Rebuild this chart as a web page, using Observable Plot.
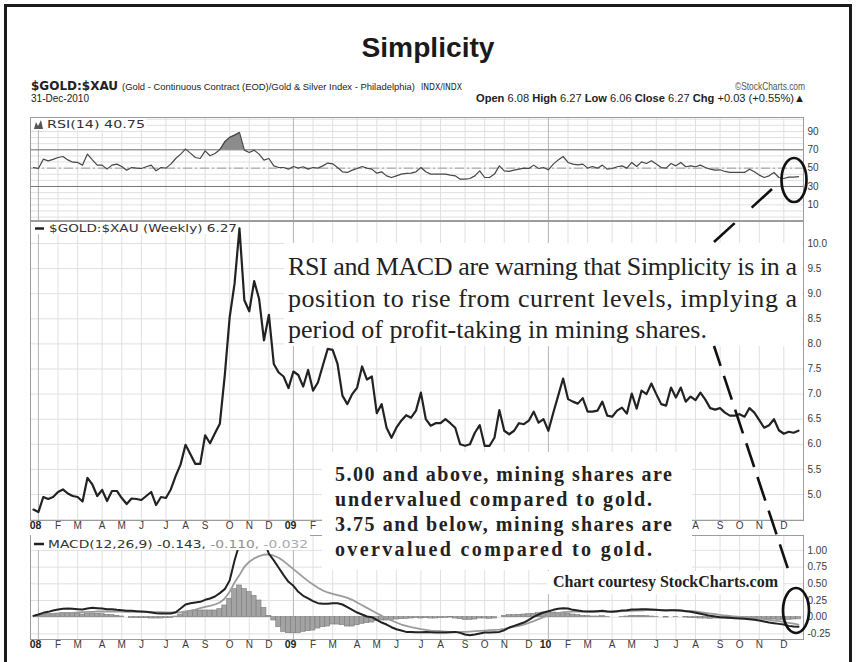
<!DOCTYPE html>
<html><head><meta charset="utf-8">
<script src="https://cdn.jsdelivr.net/npm/d3@7"></script>
<script src="https://cdn.jsdelivr.net/npm/@observablehq/plot@0.6"></script>
<style>
html,body{margin:0;padding:0;background:#fff;}
#root{position:relative;width:856px;height:662px;overflow:hidden;background:#fff;}
.panel{position:absolute;left:0;}
#overlay{position:absolute;left:0;top:0;}
</style></head>
<body><div id="root"></div>
<script>
// ---- data: weekly $GOLD:$XAU, Jan 2008 – Dec 2010 ----
const firstWeek = "2007-12-31", lastDay = "2011-01-01";
const price = [4.70,4.65,4.95,4.91,4.95,5.05,5.10,5.02,4.97,4.95,
4.86,5.33,5.20,4.97,5.09,4.87,5.07,5.07,4.93,4.81,
4.92,4.91,4.89,4.97,5.05,4.79,4.95,4.93,5.10,5.37,
5.60,5.99,5.80,5.61,5.61,6.18,6.02,6.22,6.41,7.37,
8.53,9.20,10.30,8.87,8.65,9.25,8.90,8.07,8.58,7.60,
7.43,7.35,7.12,7.45,7.38,7.15,7.48,7.07,7.23,7.57,
7.90,7.88,7.60,6.97,6.80,7.00,7.13,7.55,7.29,7.35,
6.62,6.80,6.33,6.13,6.33,6.47,6.58,6.53,6.67,7.03,
6.50,6.37,6.42,6.42,6.50,6.42,6.33,6.00,5.97,6.00,
6.23,6.38,5.97,5.97,6.13,6.68,6.27,6.20,6.27,6.42,
6.40,6.47,6.65,6.43,6.50,6.27,6.63,6.97,7.31,6.90,
6.85,6.81,6.92,6.65,6.65,6.67,6.85,6.57,6.55,6.67,
6.73,6.61,7.01,6.71,7.07,7.00,7.21,7.00,6.80,6.77,
7.13,6.93,7.13,6.85,6.95,6.88,7.03,6.89,6.72,6.69,
6.72,6.63,6.57,6.57,6.60,6.55,6.72,6.63,6.48,6.33,
6.38,6.50,6.28,6.21,6.25,6.23,6.27];
const rsi = [50.7,49.6,59.8,58.0,59.5,61.6,62.7,59.0,56.5,56.2,
53.3,65.3,59.0,53.3,53.3,48.9,53.3,54.4,51.8,47.8,
50.7,50.0,49.6,51.5,53.3,47.1,50.7,50.0,54.4,60.5,
65.3,70.7,66.4,61.6,60.5,68.9,63.5,66.0,70.0,78.7,
83.5,86.0,88.9,69.6,67.1,69.6,65.3,58.7,60.5,52.5,
50.7,50.7,48.9,51.8,50.0,51.5,48.9,50.7,50.0,52.5,
55.5,54.7,50.7,46.0,45.3,47.8,49.6,51.8,50.0,48.9,
44.5,46.0,41.6,39.8,41.6,43.5,44.2,44.5,46.0,50.7,
46.0,43.5,43.5,43.5,43.5,42.4,41.6,38.0,38.0,38.7,
41.6,47.1,39.8,39.8,43.5,52.5,47.1,46.4,47.8,48.9,
50.0,49.6,53.3,49.6,50.7,48.2,54.4,59.0,62.7,56.2,
54.4,53.6,54.4,50.0,51.8,50.0,53.3,48.9,49.6,51.5,
52.5,50.0,56.2,51.8,56.9,55.1,58.0,54.4,50.7,50.0,
55.1,52.5,56.2,51.5,52.5,51.5,53.3,50.7,48.9,47.8,
48.2,46.4,45.3,45.3,45.3,45.3,48.9,46.0,42.4,39.8,
41.6,45.3,39.8,38.7,40.2,40.2,40.75];
const macd = [0.02,0.04,0.065,0.08,0.10,0.115,0.125,0.13,0.125,0.12,
0.115,0.13,0.14,0.135,0.13,0.12,0.12,0.11,0.105,0.095,
0.095,0.09,0.085,0.08,0.07,0.06,0.055,0.055,0.055,0.075,
0.13,0.19,0.21,0.22,0.23,0.26,0.28,0.31,0.36,0.42,
0.55,0.85,1.10,1.25,1.32,1.34,1.28,1.15,0.95,0.85,
0.74,0.63,0.53,0.47,0.38,0.32,0.28,0.24,0.21,0.20,
0.20,0.21,0.21,0.19,0.15,0.11,0.07,0.04,0.01,0.0,
-0.04,-0.08,-0.11,-0.15,-0.18,-0.20,-0.22,-0.22,-0.225,-0.225,
-0.22,-0.225,-0.23,-0.23,-0.23,-0.225,-0.22,-0.235,-0.26,-0.27,
-0.26,-0.245,-0.23,-0.23,-0.225,-0.22,-0.195,-0.155,-0.13,-0.105,
-0.08,-0.04,0.005,0.04,0.07,0.09,0.11,0.125,0.135,0.13,
0.11,0.10,0.09,0.085,0.085,0.09,0.095,0.085,0.08,0.09,
0.10,0.105,0.115,0.115,0.12,0.12,0.115,0.11,0.105,0.10,
0.105,0.105,0.10,0.09,0.08,0.065,0.05,0.035,0.02,0.01,
0.0,-0.005,-0.01,-0.015,-0.02,-0.025,-0.03,-0.04,-0.05,-0.065,
-0.08,-0.09,-0.10,-0.11,-0.13,-0.14,-0.143];
const signal = [0.02,0.025,0.03,0.035,0.045,0.05,0.055,0.06,0.065,0.07,
0.075,0.08,0.08,0.085,0.085,0.085,0.085,0.085,0.085,0.08,
0.08,0.08,0.08,0.08,0.08,0.075,0.075,0.07,0.07,0.07,
0.075,0.085,0.10,0.115,0.135,0.155,0.17,0.19,0.22,0.28,
0.38,0.52,0.63,0.755,0.83,0.88,0.915,0.935,0.94,0.92,
0.89,0.84,0.78,0.72,0.66,0.60,0.54,0.49,0.44,0.40,
0.37,0.35,0.33,0.31,0.29,0.26,0.22,0.18,0.14,0.10,
0.06,0.02,-0.02,-0.05,-0.08,-0.11,-0.13,-0.15,-0.165,-0.18,
-0.19,-0.20,-0.205,-0.21,-0.215,-0.22,-0.22,-0.22,-0.22,-0.215,
-0.21,-0.205,-0.20,-0.195,-0.19,-0.185,-0.175,-0.16,-0.145,-0.13,
-0.11,-0.085,-0.06,-0.03,0.0,0.025,0.045,0.06,0.075,0.08,
0.085,0.085,0.085,0.085,0.085,0.085,0.085,0.085,0.085,0.085,
0.09,0.09,0.095,0.10,0.10,0.105,0.105,0.105,0.105,0.105,
0.105,0.10,0.10,0.095,0.09,0.085,0.075,0.065,0.055,0.045,
0.035,0.025,0.02,0.01,0.005,0.0,-0.005,-0.01,-0.02,-0.03,
-0.04,-0.05,-0.06,-0.07,-0.085,-0.095,-0.11];
const hist = [0.0,0.03,0.04,0.045,0.05,0.055,0.06,0.06,0.055,0.05,
0.04,0.05,0.055,0.05,0.045,0.035,0.03,0.02,0.01,0.0,
-0.01,-0.01,-0.015,-0.015,-0.02,-0.02,-0.02,-0.015,-0.01,0.01,
0.04,0.07,0.09,0.10,0.10,0.10,0.10,0.10,0.12,0.175,
0.275,0.42,0.475,0.42,0.375,0.32,0.25,0.14,0.02,-0.05,
-0.15,-0.22,-0.24,-0.24,-0.24,-0.22,-0.21,-0.20,-0.17,-0.15,
-0.14,-0.11,-0.11,-0.12,-0.14,-0.14,-0.12,-0.10,-0.09,-0.08,
-0.06,-0.05,-0.05,-0.04,-0.035,-0.03,-0.025,-0.02,-0.01,-0.02,
-0.015,-0.02,-0.02,-0.015,-0.01,-0.005,-0.02,-0.03,-0.04,-0.04,
-0.035,-0.02,-0.02,-0.025,-0.02,0.0,0.02,0.03,0.03,0.035,
0.04,0.045,0.05,0.06,0.07,0.07,0.07,0.065,0.06,0.05,
0.04,0.03,0.02,0.015,0.01,0.01,0.015,0.005,0.0,0.0,
0.005,0.01,0.02,0.02,0.02,0.015,0.01,0.005,0.0,-0.005,
0.0,0.005,0.0,-0.005,-0.01,-0.015,-0.02,-0.02,-0.025,-0.02,
-0.02,-0.02,-0.025,-0.025,-0.025,-0.025,-0.03,-0.03,-0.03,-0.035,
-0.035,-0.035,-0.04,-0.04,-0.04,-0.035,-0.032];
const monthLetters = ["J","F","M","A","M","J","J","A","S","O","N","D"];
const rsiTicks = [10,30,50,70,90];
const priceTicks = [5.0,5.5,6.0,6.5,7.0,7.5,8.0,8.5,9.0,9.5,10.0];
const macdTicks = [-0.25,0,0.25,0.5,0.75,1.0];
// month labels of the middle axis that the note box covers in the reference
const hiddenFrom = "2009-03-01", hiddenTo = "2010-08-01";

// ---- derived structures ----
const weeks = d3.utcMonday.range(new Date(firstWeek + "T00:00Z"), new Date(lastDay + "T00:00Z"));
const rows = weeks.map((date, i) => ({date, price: price[i], rsi: rsi[i], macd: macd[i], signal: signal[i], hist: hist[i]}));
const monthStarts = weeks.filter((d, i) => i > 0 && d.getUTCMonth() !== weeks[i - 1].getUTCMonth());
const yearStarts = monthStarts.filter(d => d.getUTCMonth() === 0);
const otherMonths = monthStarts.filter(d => d.getUTCMonth() !== 0);
const hFrom = new Date(hiddenFrom + "T00:00Z"), hTo = new Date(hiddenTo + "T00:00Z");
const visibleMid = d => d < hFrom || d >= hTo;
const xDomain = [new Date(Date.UTC(2007, 11, 26, 17, 17)), new Date(Date.UTC(2011, 0, 3, 3, 22))];
const rsiGrid = d3.range(-3.33, 105, 20 / 3).map(v => Math.round(v * 100) / 100);
const priceGrid = d3.range(4.5, 10.01, 0.5);
const macdGrid = d3.range(-0.25, 1.01, 0.25);

const W = 856, ML = 30, MR = 53;
const baseStyle = "background:transparent;overflow:visible;font-family:'Liberation Sans',Arial,sans-serif;color:#3a3a3a;";
const gridC = "#e0e0e0", yearC = "#b5b5b5", frameC = "#9c9c9c";

function vGrid() {
  return [
    Plot.gridX(otherMonths, {stroke: gridC, strokeOpacity: 1}),
    Plot.gridX(yearStarts, {stroke: yearC, strokeOpacity: 1})
  ];
}
function monthLabels(filter) {
  return [
    Plot.text(otherMonths.filter(filter), {x: d => d, text: d => monthLetters[d.getUTCMonth()], frameAnchor: "bottom", dy: 8, fontSize: 10, fill: "#3a3a3a"}),
    Plot.text(yearStarts.filter(filter), {x: d => d, text: d => String(d.getUTCFullYear()).slice(2), frameAnchor: "bottom", dy: 8, dx: 3, textAnchor: "end", fontSize: 10.5, fontWeight: "bold", fill: "#222"})
  ];
}
function yAxis(ticks, fmt) {
  return Plot.axisY(ticks, {anchor: "right", label: null, tickSize: 0, tickPadding: 4, tickFormat: fmt, fontSize: 10, fill: "#3a3a3a"});
}
function place(svg, top) {
  const div = document.createElement("div");
  div.className = "panel";
  div.style.top = top + "px";
  div.appendChild(svg);
  document.getElementById("root").appendChild(div);
}

// RSI panel
place(Plot.plot({
  width: W, height: 103, marginLeft: ML, marginRight: MR, marginTop: 0, marginBottom: 0,
  style: baseStyle,
  x: {type: "utc", domain: xDomain, axis: null},
  y: {domain: [-7.06, 105.2], axis: null},
  marks: [
    Plot.gridY(rsiGrid, {stroke: gridC, strokeOpacity: 1}),
    ...vGrid(),
    Plot.ruleY([70, 30], {stroke: "#777"}),
    Plot.ruleY([50], {stroke: "#9a9a9a", strokeDasharray: "9,3,2,3"}),
    Plot.areaY(rows, {x: "date", y1: 70, y2: d => Math.max(70, d.rsi), fill: "#8c8c8c"}),
    Plot.lineY(rows, {x: "date", y: "rsi", stroke: "#474747", strokeWidth: 1.2}),
    Plot.frame({stroke: frameC}),
    yAxis(rsiTicks, d => String(d))
  ]
}), 117);

// Price panel
place(Plot.plot({
  width: W, height: 313, marginLeft: ML, marginRight: MR, marginTop: 0, marginBottom: 14,
  style: baseStyle,
  x: {type: "utc", domain: xDomain, axis: null},
  y: {domain: [4.482, 10.438], axis: null},
  marks: [
    Plot.gridY(priceGrid, {stroke: gridC, strokeOpacity: 1}),
    ...vGrid(),
    Plot.lineY(rows, {x: "date", y: "price", stroke: "#222", strokeWidth: 2.2}),
    Plot.frame({stroke: frameC}),
    yAxis(priceTicks, d => d.toFixed(1)),
    ...monthLabels(visibleMid)
  ]
}), 221);

// MACD panel
place(Plot.plot({
  width: W, height: 118, marginLeft: ML, marginRight: MR, marginTop: 0, marginBottom: 14,
  style: baseStyle,
  x: {type: "utc", domain: xDomain, axis: null},
  y: {domain: [-0.334, 1.223], axis: null},
  marks: [
    Plot.gridY(macdGrid, {stroke: gridC, strokeOpacity: 1}),
    ...vGrid(),
    Plot.rect(rows, {x1: d => d3.utcHour.offset(d.date, -84), x2: d => d3.utcHour.offset(d.date, 84), y1: 0, y2: "hist", fill: "#a3a3a3", stroke: "#7a7a7a", strokeWidth: 0.6}),
    Plot.lineY(rows, {x: "date", y: "signal", stroke: "#9b9b9b", strokeWidth: 1.8, clip: true}),
    Plot.lineY(rows, {x: "date", y: "macd", stroke: "#222", strokeWidth: 2, clip: true}),
    Plot.frame({stroke: frameC}),
    yAxis(macdTicks, d => d.toFixed(2)),
    ...monthLabels(() => true)
  ]
}), 535);
</script>
<svg id="overlay" width="856" height="662" xmlns="http://www.w3.org/2000/svg" style="position:absolute;left:0;top:0;z-index:5">
  <rect x="5.5" y="5.5" width="845" height="700" fill="none" stroke="#1b1b1b" stroke-width="3"/>
  <text x="428" y="57" text-anchor="middle" font-family="'Liberation Sans',Arial,sans-serif" font-weight="bold" font-size="28" fill="#1a1a1a" textLength="133" lengthAdjust="spacingAndGlyphs">Simplicity</text>
  <g font-family="'Liberation Sans',Arial,sans-serif" fill="#222">
    <text x="31" y="89.5" font-family="'Liberation Sans Narrow','DejaVu Sans Condensed','Liberation Sans',sans-serif" font-weight="bold" font-size="13" textLength="87" lengthAdjust="spacingAndGlyphs">$GOLD:$XAU</text>
    <text x="122" y="89.5" font-size="9.2" textLength="293" lengthAdjust="spacingAndGlyphs">(Gold - Continuous Contract (EOD)/Gold &amp; Silver Index - Philadelphia)</text>
    <text x="421" y="89.5" font-family="'DejaVu Sans',sans-serif" font-size="8" textLength="41" lengthAdjust="spacingAndGlyphs">INDX/INDX</text>
    <text x="805" y="89.5" text-anchor="end" font-size="11" fill="#555" textLength="70" lengthAdjust="spacingAndGlyphs">©StockCharts.com</text>
    <text x="31" y="102" font-size="10.5" textLength="58" lengthAdjust="spacingAndGlyphs">31-Dec-2010</text>
    <text x="805" y="102" text-anchor="end" font-size="11" textLength="329" lengthAdjust="spacingAndGlyphs"><tspan font-weight="bold">Open</tspan> 6.08 <tspan font-weight="bold">High</tspan> 6.27 <tspan font-weight="bold">Low</tspan> 6.06 <tspan font-weight="bold">Close</tspan> 6.27 <tspan font-weight="bold">Chg</tspan> +0.03 (+0.55%)▲</text>
  </g>
  <!-- panel legends -->
  <g font-family="'DejaVu Sans',sans-serif" font-size="10" fill="#333">
    <rect x="31" y="118" width="116" height="12" fill="#fff"/>
    <path d="M34,129 L36,122 L38,126 L41,120 L43,129 Z" fill="#555"/>
    <text x="47" y="128" textLength="98" lengthAdjust="spacingAndGlyphs">RSI(14) 40.75</text>
    <rect x="31" y="222" width="206" height="12" fill="#fff"/>
    <line x1="35" y1="228.5" x2="44" y2="228.5" stroke="#222" stroke-width="2.5"/>
    <text x="49" y="232" textLength="188" lengthAdjust="spacingAndGlyphs">$GOLD:$XAU (Weekly) 6.27</text>
    <rect x="31" y="535" width="279" height="15" fill="#fff"/>
    <line x1="34" y1="544" x2="44" y2="544" stroke="#222" stroke-width="2.5"/>
    <text x="48" y="548" textLength="260" lengthAdjust="spacingAndGlyphs">MACD(12,26,9) -0.143,<tspan fill="#8e8e8e"> -0.110,</tspan><tspan fill="#aaa"> -0.032</tspan></text>
  </g>
  <!-- annotation boxes -->
  <rect x="284" y="243" width="518" height="103" fill="#fff"/>
  <g font-family="'Liberation Serif','Times New Roman',serif" font-size="26" fill="#222">
    <text x="288" y="275" textLength="509">RSI and MACD are warning that Simplicity is in a</text>
    <text x="288" y="306.5" textLength="509">position to rise from current levels, implying a</text>
    <text x="288" y="338" textLength="419">period of profit-taking in mining shares.</text>
  </g>
  <rect x="322" y="452" width="370" height="118" fill="#fff"/>
  <g font-family="'Liberation Serif','Times New Roman',serif" font-size="20" font-weight="bold" fill="#222">
    <text x="335" y="481" textLength="337">5.00 and above, mining shares are</text>
    <text x="335" y="506" textLength="317">undervalued compared to gold.</text>
    <text x="335" y="531" textLength="337">3.75 and below, mining shares are</text>
    <text x="335" y="556" textLength="317">overvalued compared to gold.</text>
  </g>
  <rect x="547" y="571" width="236" height="23" fill="#fff"/>
  <text x="553" y="587" font-family="'Liberation Serif','Times New Roman',serif" font-size="16" font-weight="bold" fill="#222" textLength="225">Chart courtesy StockCharts.com</text>
  <!-- dashed pointers and ellipses -->
  <line x1="714" y1="242" x2="772" y2="189" stroke="#111" stroke-width="2.6" stroke-dasharray="28 23"/>
  <line x1="714" y1="346" x2="789" y2="572" stroke="#111" stroke-width="2.6" stroke-dasharray="25 10.5" stroke-dashoffset="4"/>
  <ellipse cx="794" cy="180" rx="12.5" ry="22" fill="none" stroke="#111" stroke-width="2.7"/>
  <ellipse cx="796" cy="610.5" rx="13" ry="22.5" fill="none" stroke="#111" stroke-width="2.7"/>
</svg>
</body></html>
